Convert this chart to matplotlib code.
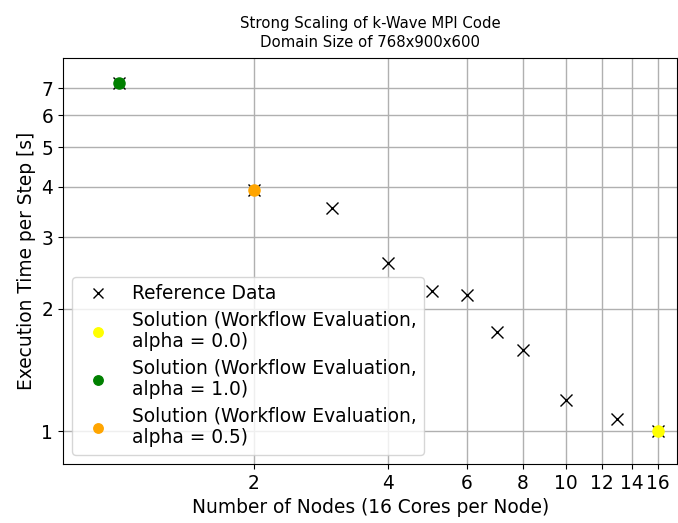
import numpy as np
import matplotlib
matplotlib.use('Agg')
import matplotlib.pyplot as plt
from matplotlib.ticker import NullLocator

# reference measurements
nodes = [1, 2, 3, 4, 5, 6, 7, 8, 10, 13, 16]
times = [7.2, 3.93, 3.55, 2.6, 2.21, 2.17, 1.75, 1.58, 1.19, 1.07, 1.0]

# workflow solutions (nodes, time)
sol_a0 = ([16], [1.0])
sol_a1 = ([1], [7.2])
sol_a05 = ([2], [3.93])

x_ticks = [2, 4, 6, 8, 10, 12, 14, 16]
y_ticks = [1, 2, 3, 4, 5, 6, 7]

plt.rcParams['font.size'] = 13.4
fig = plt.figure(figsize=(6.78, 5.23), dpi=100)
ax = fig.add_axes([0.093, 0.113, 0.906, 0.776])

ax.plot(nodes, times, 'x', color='black', markersize=8, label='Reference Data')
ax.plot(*sol_a0, 'o', color='yellow', markersize=8,
        label='Solution (Workflow Evaluation,\nalpha = 0.0)')
ax.plot(*sol_a1, 'o', color='green', markersize=8,
        label='Solution (Workflow Evaluation,\nalpha = 1.0)')
ax.plot(*sol_a05, 'o', color='orange', markersize=8,
        label='Solution (Workflow Evaluation,\nalpha = 0.5)')

ax.set_xscale('log')
ax.set_yscale('log')
ax.set_xlim(0.75, 17.7)
ax.set_ylim(0.83, 8.3)
ax.xaxis.set_minor_locator(NullLocator())
ax.yaxis.set_minor_locator(NullLocator())
ax.set_xticks(x_ticks)
ax.set_xticklabels([str(t) for t in x_ticks])
ax.set_yticks(y_ticks)
ax.set_yticklabels([str(t) for t in y_ticks])
ax.grid(True, color='#b0b0b0', linewidth=1)
ax.set_axisbelow(True)

ax.set_xlabel('Number of Nodes (16 Cores per Node)')
ax.set_ylabel('Execution Time per Step [s]')
ax.set_title('Strong Scaling of k-Wave MPI Code\nDomain Size of 768x900x600',
             fontsize=10.7, linespacing=1.3, pad=8)
ax.legend(loc='lower left', markerscale=0.85, labelspacing=0.37)

fig.savefig('out.png', dpi=100)
